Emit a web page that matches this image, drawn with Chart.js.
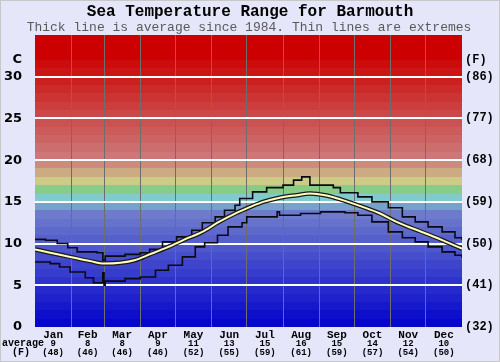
<!DOCTYPE html>
<html>
<head>
<meta charset="utf-8">
<script src="https://cdn.jsdelivr.net/npm/chart.js@4.4.1/dist/chart.umd.min.js"></script>
<style>
  html, body { margin: 0; padding: 0; background: #e6e6fa; }
  #wrap { width: 500px; height: 362px; }
</style>
</head>
<body>
<div id="wrap"><canvas id="chart" width="500" height="362"></canvas></div>
<script>
// month labels and monthly averages
const months = ['Jan', 'Feb', 'Mar', 'Apr', 'May', 'Jun', 'Jul', 'Aug', 'Sep', 'Oct', 'Nov', 'Dec'];
const monthAvgC = [9, 8, 8, 9, 11, 13, 15, 16, 15, 14, 12, 10];
const monthAvgF = [48, 46, 46, 46, 52, 55, 59, 61, 59, 57, 54, 50];
const monthStarts = [0, 31, 59, 90, 120, 151, 181, 212, 243, 273, 304, 334, 365];

// y ticks (C) and their F labels
const tempTicks = [0, 5, 10, 15, 20, 25, 30];
const fahrTicks = [32, 41, 50, 59, 68, 77, 86];

// average line (day of year, C)
const avgDays = [0, 13, 30, 47, 59, 73, 85, 98, 114, 128, 143, 156, 171, 184, 195, 209, 224, 235, 248, 261, 280, 295, 309, 323, 338, 350, 365];
const avgTemp = [9.3, 8.9, 8.4, 7.9, 7.6, 7.7, 8.0, 8.7, 9.6, 10.5, 11.4, 12.5, 13.6, 14.4, 15.0, 15.5, 15.8, 16.0, 15.8, 15.3, 14.4, 13.6, 12.6, 11.8, 11.0, 10.3, 9.4];

// highest recorded
const maxDays = [0, 9, 19, 28, 36, 53, 58, 60, 77, 90, 98, 109, 121, 134, 143, 154, 162, 171, 175, 186, 198, 212, 221, 228, 235, 255, 261, 276, 288, 302, 314, 325, 336, 348, 359, 365];
const maxTemp = [10.5, 10.4, 10.0, 9.5, 9.0, 8.9, 8.0, 8.5, 8.7, 8.9, 9.3, 10.2, 10.8, 11.6, 12.5, 13.2, 14.0, 14.6, 15.4, 16.2, 16.7, 17.0, 17.6, 18.0, 17.0, 16.7, 16.1, 15.6, 15.0, 14.3, 13.2, 12.6, 12.0, 11.4, 10.7, 10.4];

// lowest recorded
const minDays = [0, 13, 21, 30, 43, 50, 58, 59, 60, 77, 90, 103, 114, 126, 137, 145, 156, 165, 177, 181, 207, 209, 227, 244, 265, 276, 288, 302, 314, 325, 336, 348, 359, 365];
const minTemp = [7.8, 7.6, 7.2, 6.6, 5.9, 5.3, 6.5, 5.0, 5.5, 5.8, 6.0, 6.8, 7.4, 8.4, 9.6, 10.1, 11.0, 12.0, 12.5, 13.2, 13.8, 13.4, 13.6, 13.8, 13.7, 13.4, 12.6, 11.4, 10.7, 10.2, 9.6, 9.0, 8.6, 8.3];

const toPoints = (xs, ys) => xs.map((x, i) => ({ x: x, y: ys[i] }));
const monthMids = months.map((m, i) => (monthStarts[i] + monthStarts[i + 1]) / 2);

// colour for the 1 degree band starting at t
function bandColor(t) {
  if (t >= 32) return 'rgb(204,0,0)';
  if (t >= 20) {
    const g = Math.round(12 + 108 * (31 - t) / 11);
    return `rgb(204,${g},${g})`;
  }
  const mid = {
    19: 'rgb(204,140,125)', 18: 'rgb(204,170,130)', 17: 'rgb(204,204,136)',
    16: 'rgb(136,204,136)', 15: 'rgb(128,204,204)', 14: 'rgb(120,160,204)'
  };
  if (mid[t]) return mid[t];
  return `rgb(${Math.round(8 * t + 6)},${Math.round(9 * t + 6)},204)`;
}

const backdrop = {
  id: 'backdrop',
  beforeDraw(chart) {
    const { ctx, chartArea: a, scales } = chart;
    ctx.save();
    ctx.fillStyle = '#e6e6fa';
    ctx.fillRect(0, 0, chart.width, chart.height);
    for (let t = 0; t < 35; t++) {
      const y1 = Math.round(scales.y.getPixelForValue(t));
      const y2 = Math.round(scales.y.getPixelForValue(t + 1));
      ctx.fillStyle = bandColor(t);
      ctx.fillRect(a.left, y2, a.right - a.left, y1 - y2);
    }
    ctx.restore();
  },
  afterDraw(chart) {
    const { ctx, scales } = chart;
    ctx.save();
    ctx.fillStyle = '#000';
    ctx.textAlign = 'center';
    ctx.textBaseline = 'middle';
    ctx.font = 'bold 16px "Liberation Mono"';
    ctx.fillText('Sea Temperature Range for Barmouth', 250, 12);
    ctx.fillStyle = '#5a5a5a';
    ctx.font = '13px "Liberation Mono"';
    ctx.fillText('Thick line is average since 1984. Thin lines are extremes', 249, 28);

    ctx.fillStyle = '#000';
    ctx.font = 'bold 13px "DejaVu Sans"';
    ctx.textAlign = 'right';
    ctx.fillText('C', 22, scales.y.getPixelForValue(32));
    ctx.font = 'bold 12px "Liberation Mono"';
    ctx.textAlign = 'left';
    ctx.fillText('(F)', 465, scales.y.getPixelForValue(32));

    ctx.font = 'bold 9px "Liberation Mono"';
    ctx.textAlign = 'center';
    monthMids.forEach((d, i) => {
      const x = scales.x.getPixelForValue(d);
      ctx.fillText(String(monthAvgC[i]), x, 343.5);
      ctx.fillText('(' + monthAvgF[i] + ')', x, 352.5);
    });
    ctx.font = 'bold 10px "Liberation Mono"';
    ctx.textAlign = 'left';
    ctx.fillText('average', 2, 343.5);
    ctx.textAlign = 'center';
    ctx.fillText('(F)', 21, 352.5);

    ctx.strokeStyle = '#c8c8c8';
    ctx.lineWidth = 1;
    ctx.strokeRect(0.5, 0.5, chart.width - 1, chart.height - 1);
    ctx.restore();
  }
};

const ctx = document.getElementById('chart').getContext('2d');
new Chart(ctx, {
  type: 'line',
  data: {
    datasets: [
      {
        label: 'average',
        data: toPoints(avgDays, avgTemp),
        borderColor: '#ffffbe',
        borderWidth: 2,
        cubicInterpolationMode: 'monotone',
        pointRadius: 0,
        order: 0
      },
      {
        label: 'average outline',
        data: toPoints(avgDays, avgTemp),
        borderColor: '#1a1a1a',
        borderWidth: 4.5,
        cubicInterpolationMode: 'monotone',
        pointRadius: 0,
        order: 1
      },
      {
        label: 'max',
        data: toPoints(maxDays, maxTemp),
        borderColor: '#0a0a14',
        borderWidth: 1.6,
        stepped: true,
        pointRadius: 0,
        order: 2
      },
      {
        label: 'min',
        data: toPoints(minDays, minTemp),
        borderColor: '#0a0a14',
        borderWidth: 1.6,
        stepped: true,
        pointRadius: 0,
        order: 2
      }
    ]
  },
  options: {
    responsive: false,
    animation: false,
    layout: { padding: { top: 35 } },
    plugins: { legend: { display: false }, tooltip: { enabled: false } },
    scales: {
      x: {
        type: 'linear',
        min: 0,
        max: 365,
        afterBuildTicks: s => { s.ticks = monthMids.map(v => ({ value: v })); },
        afterFit: s => { s.height = 35; },
        ticks: {
          autoSkip: false,
          maxRotation: 0,
          padding: 2,
          color: '#000',
          font: { family: 'Liberation Mono', weight: 'bold', size: 11 },
          callback: (v, i) => months[i]
        },
        grid: { display: false, drawTicks: false },
        border: { display: false }
      },
      xg: {
        type: 'linear',
        position: 'bottom',
        min: 0,
        max: 365,
        afterBuildTicks: s => { s.ticks = monthStarts.slice(1, 12).map(v => ({ value: v })); },
        afterFit: s => { s.height = 0; },
        ticks: { display: false },
        grid: { color: '#6e6e6e', lineWidth: 1, drawTicks: false },
        border: { display: false }
      },
      y: {
        type: 'linear',
        position: 'left',
        min: 0,
        max: 35,
        afterBuildTicks: s => { s.ticks = tempTicks.map(v => ({ value: v })); },
        afterFit: s => { s.width = 35; },
        ticks: {
          padding: 13,
          color: '#000',
          font: { family: 'DejaVu Sans', weight: 'bold', size: 13 }
        },
        grid: {
          color: c => (c.tick && c.tick.value === 0) ? 'rgba(0,0,0,0)' : '#ffffff',
          lineWidth: 2,
          drawTicks: false
        },
        border: { display: false }
      },
      y2: {
        type: 'linear',
        position: 'right',
        min: 0,
        max: 35,
        afterBuildTicks: s => { s.ticks = tempTicks.map(v => ({ value: v })); },
        afterFit: s => { s.width = 38; },
        ticks: {
          padding: 3,
          color: '#000',
          font: { family: 'Liberation Mono', weight: 'bold', size: 12 },
          callback: (v, i) => '(' + fahrTicks[i] + ')'
        },
        grid: { display: false, drawTicks: false },
        border: { display: false }
      }
    }
  },
  plugins: [backdrop]
});
</script>
</body>
</html>
